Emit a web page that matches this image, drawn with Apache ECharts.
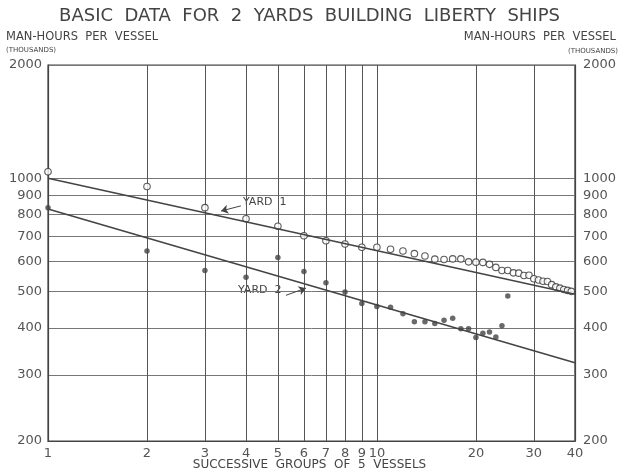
<!DOCTYPE html>
<html>
<head>
<meta charset="utf-8">
<title>Basic data for 2 yards building Liberty ships</title>
<script src="https://cdn.jsdelivr.net/npm/echarts@6/dist/echarts.min.js"></script>
<style>
  html, body { margin: 0; padding: 0; background: #fff; }
  #chart { width: 619px; height: 475px; }
</style>
</head>
<body>
<div id="chart"></div>
<script>
// successive groups of 5 vessels / man-hours per vessel (thousands)
var yard1Groups = [1, 2, 3, 4, 5, 6, 7, 8, 9, 10, 11, 12, 13, 14, 15, 16, 17, 18, 19, 20,
  21, 22, 23, 24, 25, 26, 27, 28, 29, 30, 31, 32, 33, 34, 35, 36, 37, 38, 39];
var yard1Hours = [1040, 950, 835, 780, 745, 703, 682, 668, 655, 655, 647, 640, 630, 621, 609, 608, 610, 610, 599, 598,
  597, 590, 579, 568, 568, 560, 559, 551, 552, 540, 536, 532, 531, 521, 514, 510, 506, 503, 500];

var yard2Groups = [1, 2, 3, 4, 5, 6, 7, 8, 9, 10, 11, 12, 13, 14, 15, 16, 17, 18, 19, 20,
  21, 22, 23, 24, 25];
var yard2Hours = [835, 640, 568, 545, 615, 565, 527, 498, 464, 456, 454, 436, 415, 415, 411, 419, 424, 398, 398, 377,
  387, 390, 378, 405, 486];

// fitted straight lines (log-log), end points at group 1 and 40
var fitGroups = [1, 40];
var yard1Fit = [1000, 491];
var yard2Fit = [828, 323];

// annotation arrows: [tail, head]
var yard1Arrow = [[3.86, 844], [3.36, 818]];
var yard2Arrow = [[5.29, 488], [6.08, 510]];

var xTicks = [1, 2, 3, 4, 5, 6, 7, 8, 9, 10, 20, 30, 40];
var yTicks = [200, 300, 400, 500, 600, 700, 800, 900, 1000, 2000];

function pairs (xs, ys) {
  return xs.map(function (x, i) { return [x, ys[i]]; });
}

function plain (v) {
  return String(Math.round(v));
}

var FONT = 'DejaVu Sans';
var INK = '#444';

var myChart = echarts.init(document.getElementById('chart'));

var yAxisBase = {
  type: 'log',
  logBase: 10,
  min: 200,
  max: 2000,
  axisLine: { show: true, lineStyle: { color: INK, width: 1.2 } },
  axisTick: { show: false, customValues: yTicks },
  axisLabel: {
    customValues: yTicks,
    formatter: plain,
    color: '#555',
    fontFamily: FONT,
    fontSize: 13
  }
};

myChart.setOption({
  backgroundColor: '#fff',
  animation: false,
  grid: {
    left: 48,
    right: 44,
    top: 65,
    bottom: 34,
    show: true,
    borderColor: INK,
    borderWidth: 1.2
  },
  xAxis: {
    type: 'log',
    logBase: 10,
    min: 1,
    max: 40,
    axisLine: { show: true, lineStyle: { color: INK, width: 1.2 } },
    axisTick: { show: false, customValues: xTicks },
    axisLabel: {
      customValues: xTicks,
      formatter: plain,
      color: '#555',
      fontFamily: FONT,
      fontSize: 13,
      margin: 6
    },
    //网格线
    splitLine: { show: true, lineStyle: { color: '#555', width: 1 } }
  },
  yAxis: [
    Object.assign({}, yAxisBase, {
      position: 'left',
      axisLabel: Object.assign({}, yAxisBase.axisLabel, { margin: 6 }),
      splitLine: { show: true, lineStyle: { color: '#777', width: 1 } }
    }),
    Object.assign({}, yAxisBase, {
      position: 'right',
      axisLabel: Object.assign({}, yAxisBase.axisLabel, { margin: 8 }),
      splitLine: { show: false }
    })
  ],
  series: [
    {
      name: 'Yard 1 fit',
      type: 'line',
      data: pairs(fitGroups, yard1Fit),
      symbol: 'none',
      lineStyle: { color: INK, width: 1.6 },
      markLine: {
        silent: true,
        symbol: ['none', 'arrow'],
        symbolSize: 7,
        label: { show: false },
        lineStyle: { color: INK, width: 1, type: 'solid' },
        data: [[{ coord: yard1Arrow[0] }, { coord: yard1Arrow[1] }]]
      }
    },
    {
      name: 'Yard 2 fit',
      type: 'line',
      data: pairs(fitGroups, yard2Fit),
      symbol: 'none',
      lineStyle: { color: INK, width: 1.6 },
      markLine: {
        silent: true,
        symbol: ['none', 'arrow'],
        symbolSize: 7,
        label: { show: false },
        lineStyle: { color: INK, width: 1, type: 'solid' },
        data: [[{ coord: yard2Arrow[0] }, { coord: yard2Arrow[1] }]]
      }
    },
    {
      name: 'Yard 1',
      type: 'scatter',
      data: pairs(yard1Groups, yard1Hours),
      symbol: 'circle',
      symbolSize: 6.5,
      itemStyle: { color: '#fff', borderColor: '#333', borderWidth: 1.1 }
    },
    {
      name: 'Yard 2',
      type: 'scatter',
      data: pairs(yard2Groups, yard2Hours),
      symbol: 'circle',
      symbolSize: 5.5,
      itemStyle: { color: '#444' }
    }
  ],
  graphic: [
    {
      type: 'text', left: 'center', top: 7,
      style: { text: 'BASIC  DATA  FOR  2  YARDS  BUILDING  LIBERTY  SHIPS', font: '18px "DejaVu Sans"', fill: INK }
    },
    {
      type: 'text', left: 6, top: 31,
      style: { text: 'MAN-HOURS  PER  VESSEL', font: '11.5px "DejaVu Sans"', fill: INK }
    },
    {
      type: 'text', left: 6, top: 47,
      style: { text: '(THOUSANDS)', font: '7px "DejaVu Sans"', fill: INK }
    },
    {
      type: 'text', right: 3, top: 31,
      style: { text: 'MAN-HOURS  PER  VESSEL', font: '11.5px "DejaVu Sans"', fill: INK }
    },
    {
      type: 'text', right: 1, top: 48,
      style: { text: '(THOUSANDS)', font: '7px "DejaVu Sans"', fill: INK }
    },
    {
      type: 'text', left: 'center', top: 459,
      style: { text: 'SUCCESSIVE  GROUPS  OF  5  VESSELS', font: '12px "DejaVu Sans"', fill: INK }
    },
    {
      type: 'text', left: 243, top: 197,
      style: { text: 'YARD  1', font: '11px "DejaVu Sans"', fill: INK }
    },
    {
      type: 'text', left: 238, top: 285,
      style: { text: 'YARD  2', font: '11px "DejaVu Sans"', fill: INK }
    }
  ]
});

window.addEventListener('resize', function () {
  myChart.resize();
});
</script>
</body>
</html>
